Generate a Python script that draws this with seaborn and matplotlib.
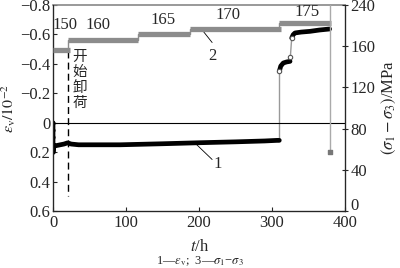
import numpy as np
import pandas as pd
import matplotlib
matplotlib.use("Agg")
import matplotlib.pyplot as plt
import matplotlib.transforms as mtransforms
import seaborn as sns
from matplotlib.scale import FuncScale

# ---------------- data ----------------
# curve 1: volumetric strain (1e-2), loading stage before unloading
t1 = [0, 0, 0, 0, 0, 1, 5, 10, 15, 20, 25, 35, 50, 92, 150, 201, 250, 290, 307, 310]
ev1 = [0.0, 0.05, 0.10, 0.15, 0.20, 0.16, 0.155, 0.15, 0.145, 0.137, 0.145, 0.15, 0.15,
       0.15, 0.143, 0.136, 0.13, 0.124, 0.12, 0.12]
# curve 1 after stress increase (first sub-stage)
t2 = [310, 312, 315.5, 320, 324.7]
ev2 = [-0.349, -0.385, -0.406, -0.413, -0.417]
# curve 1 second sub-stage
t3 = [327, 329, 331.5, 340, 352, 365, 379]
ev3 = [-0.576, -0.598, -0.61, -0.616, -0.621, -0.63, -0.637]
# transition markers on curve 1
t_mark = [310, 324.7, 327]
ev_mark = [-0.349, -0.444, -0.576]

# curve 2: deviatoric stress steps (MPa)
step_start = [0, 21, 117, 188, 309]
step_end = [23, 117, 188, 312, 381]
step_val = [150, 160, 165, 170, 175]
step_labels = ["150", "160", "165", "170", "175"]
end_t = 380
end_val = 56

unload_t = 21  # start of unloading (dashed line)

left_ticks = [-0.8, -0.6, -0.4, -0.2, 0, 0.2, 0.4, 0.6]
left_ticklabels = ["\u22120.8", "\u22120.6", "\u22120.4", "\u22120.2", "0", "0.2", "0.4", "0.6"]
x_ticks = [0, 100, 200, 300, 400]
right_ticks = [0, 40, 80, 120, 160, 240]

# ---------------- style ----------------
sns.set_style("ticks")
plt.rcParams["font.family"] = ["Liberation Serif", "Noto Sans CJK SC", "DejaVu Sans"]
plt.rcParams["mathtext.fontset"] = "stix"
FS = 12

fig = plt.figure(figsize=(4.0, 2.68), dpi=100)
ax = fig.add_axes([53 / 400, 1 - 211 / 268, 292 / 400, 206 / 268])

# black strain curve
df1 = pd.DataFrame({"t": t1, "ev": ev1})
sns.lineplot(data=df1, x="t", y="ev", ax=ax, color="black", lw=3.4, sort=False,
             estimator=None, legend=False)
ax.scatter(t1[:5], ev1[:5], s=4, color="black", zorder=5)
df2 = pd.DataFrame({"t": t2, "ev": ev2})
df3 = pd.DataFrame({"t": t3, "ev": ev3})
sns.lineplot(data=df2, x="t", y="ev", ax=ax, color="black", lw=3.4, sort=False, estimator=None)
sns.lineplot(data=df3, x="t", y="ev", ax=ax, color="black", lw=3.4, sort=False, estimator=None)
# thin grey connectors of the jumps
ax.plot([t1[-1], t2[0]], [ev1[-1], ev2[0]], color="#999999", lw=1.0, zorder=1)
ax.plot([t2[-1], t3[0]], [ev2[-1], ev3[0]], color="#999999", lw=1.0, zorder=1)
ax.scatter(t_mark, ev_mark, s=10, facecolor="white", edgecolor="#555555", lw=0.8, zorder=6)

ax.axhline(0, color="black", lw=0.8)
ax.plot([unload_t, unload_t], [-0.49, 0.5], color="black", lw=1.0, ls=(0, (5, 3)))

ax.set_xlim(0, 400)
ax.set_ylim(0.6, -0.8)
ax.set_xticks(x_ticks)
ax.set_xticklabels([str(v) for v in x_ticks], fontsize=FS)
ax.set_yticks(left_ticks)
ax.set_yticklabels(left_ticklabels, fontsize=FS)
ax.tick_params(axis="y", direction="in", length=3, width=0.8, pad=2)
ax.tick_params(axis="x", direction="in", length=3, width=0.8, pad=3)
ax.set_xlabel("")
ax.set_ylabel("")
for s in ["left", "bottom"]:
    ax.spines[s].set_linewidth(0.9)
ax.spines["top"].set_color("#888888")
ax.spines["top"].set_linewidth(1.2)

# visible right axis (ticks compressed above 160 as in the reference)
axr = ax.twinx()
def fwd(v):
    v = np.asarray(v, dtype=float)
    return np.where(v <= 160, v, 160 + (v - 160) / 2)
def inv(v):
    v = np.asarray(v, dtype=float)
    return np.where(v <= 160, v, 160 + (v - 160) * 2)
axr.set_yscale(FuncScale(axr, (fwd, inv)))
axr.set_ylim(0, 240)
axr.set_yticks(right_ticks)
axr.set_yticklabels([str(v) for v in right_ticks], fontsize=FS)
axr.tick_params(axis="y", direction="inout", length=4, width=0.8, pad=2)
axr.spines["right"].set_linewidth(0.9)
axr.spines["top"].set_visible(False)
axr.set_ylabel("")
# lift the "0" label a little so it clears the x tick label "400"
zero_lab = axr.get_yticklabels()[0]
zero_lab.set_transform(zero_lab.get_transform() +
                       mtransforms.ScaledTranslation(0, 7 / 100, fig.dpi_scale_trans))

# stress step curve on its own (hidden) linear axis
axs = ax.twinx()
axs.set_ylim(1, 192)
axs.axis("off")
for s0, s1, v in zip(step_start, step_end, step_val):
    axs.plot([s0, s1], [v, v], color="#8c8c8c", lw=3.8, solid_capstyle="butt")
for i in range(1, len(step_val)):
    axs.plot([step_start[i], step_start[i]], [step_val[i - 1], step_val[i]],
             color="#8c8c8c", lw=1.0)
axs.plot([end_t, end_t], [step_val[-1], end_val], color="#aaaaaa", lw=1.0)
axs.plot([end_t, end_t], [step_val[-1], 192], color="#aaaaaa", lw=1.0)
axs.scatter([end_t], [end_val], marker="s", s=6, color="#777777", zorder=5)

# step value labels
lab_x = [16, 62, 151, 240, 348]
lab_y = [-0.664, -0.664, -0.698, -0.732, -0.752]
for x, y, s in zip(lab_x, lab_y, step_labels):
    ax.text(x, y, s, fontsize=FS, ha="center", va="center")

# unloading note (vertical stacked characters)
for k, ch in enumerate("开始卸荷"):
    ax.text(37, -0.446 + k * 0.104, ch, fontsize=10.5, ha="center", va="center",
            family=["Noto Sans CJK SC", "DejaVu Sans"])

# curve labels with leader lines
ax.plot([202, 218], [-0.645, -0.545], color="black", lw=0.6)
ax.text(219, -0.45, "2", fontsize=FS, ha="center", va="center")
ax.plot([197, 218], [0.15, 0.25], color="black", lw=0.6)
ax.text(225, 0.28, "1", fontsize=FS, ha="center", va="center")

# axis titles
fig.text(9 / 400, 1 - 108 / 268, r"$\varepsilon_{\mathrm{v}}/10^{-2}$", rotation=90,
         ha="center", va="center", fontsize=11.5)
fig.text(389 / 400, 1 - 108 / 268, r"$(\sigma_1-\sigma_3)$/MPa", rotation=90,
         ha="center", va="center", fontsize=FS)
fig.text(200 / 400, 1 - 247 / 268, r"$t$/h", ha="center", va="center", fontsize=FS)
fig.text(200 / 400, 1 - 261 / 268, r"1—$\varepsilon_{\mathrm{v}}$;  3—$\sigma_1$−$\sigma_3$",
         ha="center", va="center", fontsize=9)

fig.savefig("out.png", dpi=100)
